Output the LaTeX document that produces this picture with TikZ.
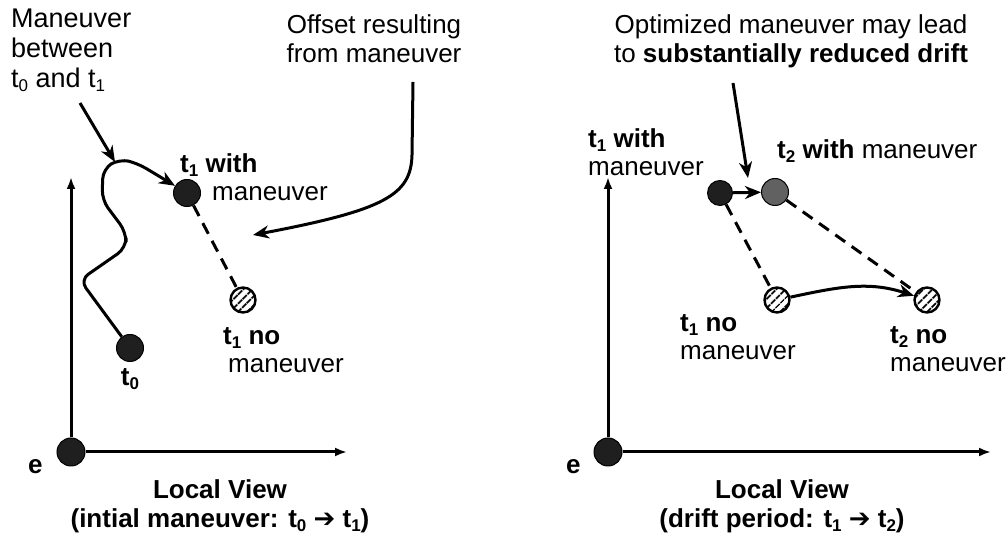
\documentclass[tikz,border=0pt]{standalone}
\usepackage{fontspec}
\setmainfont{Liberation Sans}
\newfontfamily\dejavu{DejaVu Sans}
\usepackage{tikz}
\usetikzlibrary{arrows.meta,patterns.meta,positioning}
\newcommand{\darr}{{\dejavu\bfseries ➔}}
\newcommand{\tsub}[1]{\raisebox{-4pt}{\fontsize{17}{17}\selectfont#1}}

\begin{document}
\begin{tikzpicture}[
  x=1pt, y=1pt,
  font=\fontsize{26}{29}\selectfont,
  dot/.style={circle, draw=black, line width=1pt, fill=black!88, minimum size=27pt, inner sep=0pt},
  gdot/.style={dot, fill=black!62},
  hdot/.style={circle, draw=black, line width=2.4pt, preaction={fill=white},
    pattern={Lines[angle=45, distance=6.5pt, line width=2pt]}, minimum size=25pt, inner sep=0pt},
  lbl/.style={inner sep=0pt, align=left, anchor=north west, font=\fontsize{26}{26}\selectfont},
  txt/.style={inner sep=0pt, align=center, anchor=north},
  arr/.style={-{Stealth[length=16pt, width=13pt, inset=5pt]}, line width=3pt},
  axis/.style={-{Latex[length=12pt, width=9pt]}, line width=3pt},
  drift/.style={line width=3pt, dash pattern=on 12pt off 8pt}
]
\useasboundingbox (0,0) rectangle (1006,540);

% initial maneuver
\node[dot, minimum size=28pt] (e0) at (71,88) {};
\coordinate (ytop0) at (71,363);
\coordinate (xend0) at (347,88);
\draw[axis] (e0) -- (ytop0);
\draw[axis] (e0) -- (xend0);
\node[lbl] (elbl0) at (28,81) {\textbf{e}};
\node[txt] (cap0) at (220,61) {\textbf{Local View}\\\textbf{(intial maneuver: t\tsub{0} \darr{} t\tsub{1})}};

\node[dot] (t0) at (130,192) {};
\node[lbl, anchor=north] (t0lbl) at (130,172) {\textbf{t\tsub{0}}};
\node[dot] (t1w) at (187,347) {};
\node[lbl] (t1wlbl) at (180,387) {\textbf{t\tsub{1} with}\\[2pt]\hspace*{32pt}maneuver};
\node[hdot] (t1n) at (243,240) {};
\node[lbl] (t1nlbl) at (223,213) {\textbf{t\tsub{1} no}\\[2pt]\hspace*{5pt}maneuver};

\draw[arr, rounded corners=10pt] (t0) -- (80,260) -- (126,292) -- (126,308) -- (102,340)
  -- (103,371) -- (119,381) -- (137,377) -- (t1w);
\draw[drift] (t1w) -- (t1n);

\node[txt, align=left, anchor=north west, font=\fontsize{27}{30}\selectfont] (mantxt) at (11,531) {Maneuver\\between\\t\tsub{0} and t\tsub{1}};
\coordinate (manfrom) at (80,437);
\coordinate (manto) at (115,378);
\draw[arr] (manfrom) -- (manto);

\node[txt] (offtxt) at (374,526) {Offset resulting\\from maneuver};
\coordinate (offfrom) at (413,458);
\coordinate (offto) at (253,305);
\draw[arr] (offfrom) -- (412,385) .. controls (411,345) and (385,330) .. (offto);

% drift period
\node[dot, minimum size=28pt] (e1) at (608,88) {};
\coordinate (ytop1) at (608,363);
\coordinate (xend1) at (991,88);
\draw[axis] (e1) -- (ytop1);
\draw[axis] (e1) -- (xend1);
\node[lbl] (elbl1) at (566,81) {\textbf{e}};
\node[txt] (cap1) at (782,61) {\textbf{Local View}\\\textbf{(drift period: t\tsub{1} \darr{} t\tsub{2})}};

\node[dot, minimum size=25pt] (r1w) at (720,347) {};
\node[lbl] (r1wlbl) at (588,412) {\textbf{t\tsub{1} with}\\[2pt]maneuver};
\node[gdot] (r2w) at (775,348) {};
\node[lbl] (r2wlbl) at (777,401) {\textbf{t\tsub{2} with} maneuver};
\node[hdot] (r1n) at (777,240) {};
\node[lbl] (r1nlbl) at (680,226) {\textbf{t\tsub{1} no}\\[2pt]maneuver};
\node[hdot] (r2n) at (927,240) {};
\node[lbl] (r2nlbl) at (890,214) {\textbf{t\tsub{2} no}\\[2pt]maneuver};

\draw[arr] (r1w) -- (r2w);
\draw[drift] (r1w) -- (r1n);
\draw[drift] (r2w) -- (r2n);
\draw[arr] (r1n) to[out=12, in=162] (r2n);

\node[txt] (opttxt) at (791,526) {Optimized maneuver may lead\\to \textbf{substantially reduced drift}};
\coordinate (optfrom) at (733,457);
\coordinate (optto) at (748,362);
\draw[arr] (optfrom) -- (optto);
\end{tikzpicture}
\end{document}
